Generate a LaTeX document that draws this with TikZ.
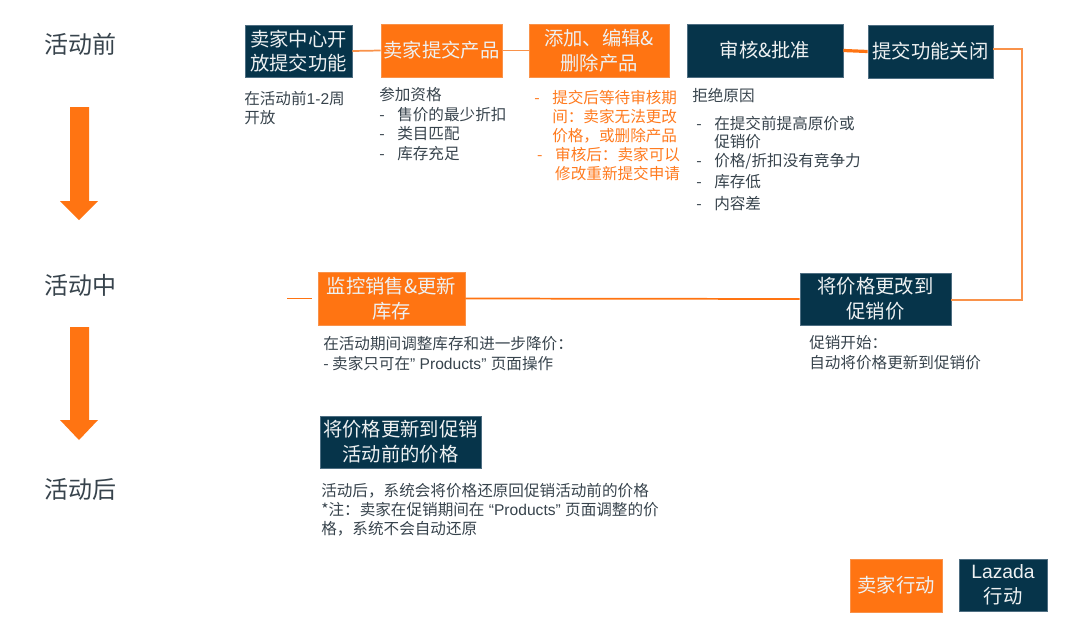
\documentclass[tikz,border=0pt]{standalone}
\usepackage{fontspec}
\setmainfont{Noto Sans CJK SC}
\newfontfamily\latf{Liberation Sans}
\definecolor{lzorange}{HTML}{FF7412}
\definecolor{lzline}{HTML}{F9924A}
\definecolor{lzdark}{HTML}{06344A}
\definecolor{lzborder}{HTML}{4E6E82}
\definecolor{lztext}{HTML}{37434C}
\definecolor{lzboxtext}{HTML}{EEF1F2}
\definecolor{lzotext}{HTML}{FF7A1E}
\tikzset{
  px/.style={x=0.75pt,y=-0.75pt},
  boxbase/.style={anchor=center, inner sep=0pt, align=center, text=lzboxtext,
    font=\fontsize{14.5}{18.5}\selectfont},
  darkbox/.style={boxbase, fill=lzdark, draw=lzborder, line width=0.5pt},
  orangebox/.style={boxbase, fill=lzorange, draw=lzline, line width=0.5pt},
  note/.style={anchor=base west, inner sep=0pt, align=left, text=lztext,
    font=\fontsize{11.7}{14}\selectfont},
  onote/.style={note, text=lzotext},
  phase/.style={anchor=center, inner sep=0pt, text=lztext, font=\fontsize{18}{20}\selectfont},
  flow/.style={draw=lzline, line width=1.3pt},
  thickflow/.style={draw=lzorange, line width=2.4pt},
  bigarrow/.style={fill=lzorange, draw=none}
}
\newcommand{\dw}{\makebox[13.5pt][l]{-}}
\begin{document}
\begin{tikzpicture}[px]
\useasboundingbox (0,0) rectangle (1080,628);
% phase labels
\node[phase] (pre) at (80,44) {活动前};
\node[phase] (mid) at (80,285) {活动中};
\node[phase] (post) at (80,489) {活动后};
% big arrows
\fill[bigarrow] (70,107) -- (89,107) -- (89,201) -- (98,201) -- (79,220) -- (60,201) -- (70,201) -- cycle;
\fill[bigarrow] (70,327) -- (89,327) -- (89,420) -- (98,420) -- (79,440) -- (60,420) -- (70,420) -- cycle;
% boxes
\node[darkbox, minimum width=107*0.75pt, minimum height=52*0.75pt] (b1) at (298.5,51) {卖家中心开\\放提交功能};
\node[orangebox, minimum width=121*0.75pt, minimum height=53*0.75pt] (b2) at (441.5,50.5) {卖家提交产品};
\node[orangebox, minimum width=140*0.75pt, minimum height=53*0.75pt] (b3) at (599,50.5) {添加、编辑\&\\删除产品};
\node[darkbox, minimum width=156*0.75pt, minimum height=53*0.75pt] (b4) at (765,50.5) {审核\&批准};
\node[darkbox, minimum width=125*0.75pt, minimum height=53*0.75pt] (b5) at (930.5,51.5) {提交功能关闭};
\node[darkbox, minimum width=151*0.75pt, minimum height=52*0.75pt] (b6) at (875.5,299) {将价格更改到\\促销价};
\node[orangebox, minimum width=147*0.75pt, minimum height=53*0.75pt] (b7) at (391.5,298.5) {监控销售\&更新\\库存};
\node[darkbox, minimum width=161*0.75pt, minimum height=52*0.75pt] (b8) at (400.5,442) {将价格更新到促销\\活动前的价格};
\node[orangebox, minimum width=92*0.75pt, minimum height=53*0.75pt] (l1) at (896,585.5) {卖家行动};
\node[darkbox, minimum width=88*0.75pt, minimum height=52*0.75pt] (l2) at (1003,585) {{\latf Lazada}\\行动};
% connectors
\draw[flow] (b1.east) -- (b2.west);
\draw[flow] (b2.east) -- (b3.west);
\draw[thickflow] (b4.east) -- (b5.west);
\coordinate (c1) at (1022,49);
\coordinate (c2) at (1022,300);
\draw[flow] (b5.east |- c1) -- (c1) -- (c2) -- (b6.east |- c2);
\draw[flow, draw=lzorange] (b6.west) -- (b7.east);
\coordinate (c3) at (287,298.5);
\draw[flow, draw=lzorange] ([xshift=-4.5pt]b7.west) -- (c3);
% notes (anchored at the baseline of the last line)
\node[note] (n1) at (244,123) {在活动前{\latf 1-2}周\\[-0.4pt]开放};
\node[note] (n2) at (379,159) {参加资格\\[0.6pt]\dw 售价的最少折扣\\[0.6pt]\dw 类目匹配\\[0.6pt]\dw 库存充足};
\node[onote] (n3) at (534,179) {\dw 提交后等待审核期\\\hspace{13.5pt}间：卖家无法更改\\\hspace{13.5pt}价格，或删除产品\\[0.3pt]\hspace{2.2pt}\dw 审核后：卖家可以\\\hspace{15.7pt}修改重新提交申请};
\node[note] (n4) at (692,209) {拒绝原因\\[7pt]\hspace{3pt}\dw 在提交前提高原价或\\\hspace{16.5pt}促销价\\[0.4pt]\hspace{3pt}\dw 价格/折扣没有竞争力\\[1.8pt]\hspace{3pt}\dw 库存低\\[1.8pt]\hspace{3pt}\dw 内容差};
\node[note] (n5) at (323,369) {在活动期间调整库存和进一步降价：\\[0.3pt]- 卖家只可在{\latf ” Products” }页面操作};
\node[note] (n6) at (809,368) {促销开始：\\[0.3pt]自动将价格更新到促销价};
\node[note] (n7) at (321,534) {活动后，系统会将价格还原回促销活动前的价格\\[0.3pt]*注：卖家在促销期间在{\latf\ “Products” }页面调整的价\\[-0.4pt]格，系统不会自动还原};
\end{tikzpicture}
\end{document}
